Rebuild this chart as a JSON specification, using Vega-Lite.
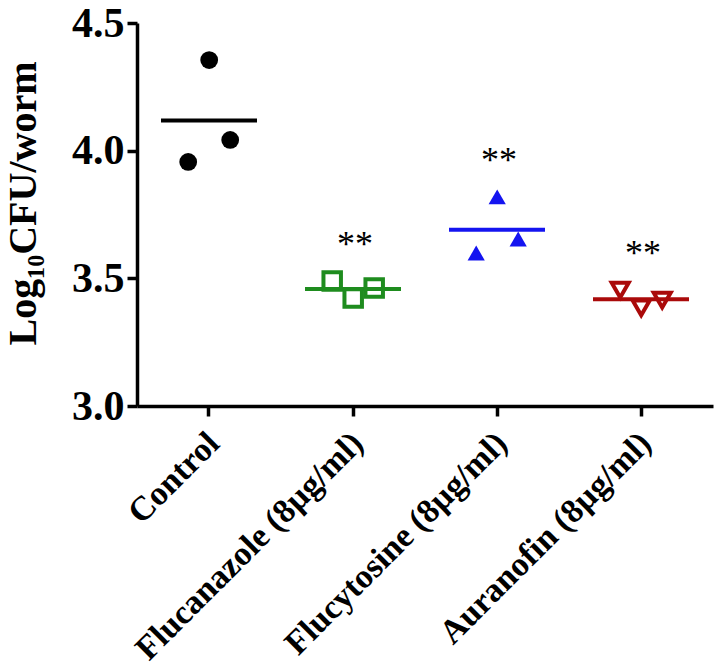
{
  "$schema": "https://vega.github.io/schema/vega-lite/v6.json",
  "width": 576,
  "height": 383,
  "autosize": "none",
  "padding": {"left": 137, "top": 23, "right": 7, "bottom": 264},
  "background": "white",
  "config": {"view": {"stroke": null}, "font": "Liberation Serif"},
  "data": {
    "values": [
      {"group": "Control", "rep": 1, "value": 3.956},
      {"group": "Control", "rep": 2, "value": 4.355},
      {"group": "Control", "rep": 3, "value": 4.042},
      {"group": "Flucanazole (8µg/ml)", "rep": 1, "value": 3.490},
      {"group": "Flucanazole (8µg/ml)", "rep": 2, "value": 3.423},
      {"group": "Flucanazole (8µg/ml)", "rep": 3, "value": 3.462},
      {"group": "Flucytosine (8µg/ml)", "rep": 1, "value": 3.599},
      {"group": "Flucytosine (8µg/ml)", "rep": 2, "value": 3.819},
      {"group": "Flucytosine (8µg/ml)", "rep": 3, "value": 3.654},
      {"group": "Auranofin (8µg/ml)", "rep": 1, "value": 3.454},
      {"group": "Auranofin (8µg/ml)", "rep": 2, "value": 3.384},
      {"group": "Auranofin (8µg/ml)", "rep": 3, "value": 3.415}
    ]
  },
  "encoding": {
    "x": {
      "field": "group",
      "type": "nominal",
      "sort": ["Control", "Flucanazole (8µg/ml)", "Flucytosine (8µg/ml)", "Auranofin (8µg/ml)"],
      "scale": {"paddingInner": 0.1, "paddingOuter": 0.05},
      "axis": {
        "title": null,
        "labelAngle": -45,
        "labelFontSize": 34,
        "labelFontWeight": "bold",
        "labelColor": "black",
        "labelFont": "Liberation Serif",
        "labelLimit": 600,
        "labelPadding": 10,
        "labelOffset": -7,
        "domainColor": "black",
        "domainWidth": 3.5,
        "tickColor": "black",
        "tickWidth": 3.5,
        "tickSize": 10
      }
    },
    "color": {
      "field": "group",
      "type": "nominal",
      "scale": {
        "domain": ["Control", "Flucanazole (8µg/ml)", "Flucytosine (8µg/ml)", "Auranofin (8µg/ml)"],
        "range": ["#000000", "#1e8c1e", "#1414f0", "#aa0a0a"]
      },
      "legend": null
    }
  },
  "layer": [
    {
      "mark": {"type": "tick", "thickness": 4, "size": 96, "opacity": 1},
      "encoding": {
        "y": {
          "aggregate": "mean",
          "field": "value",
          "type": "quantitative",
          "scale": {"domain": [3, 4.5], "nice": false, "zero": false},
          "axis": {
            "title": "Log₁₀CFU/worm",
            "titleFontSize": 40,
            "titleFontWeight": "bold",
            "titleColor": "black",
            "titleFont": "Liberation Serif",
            "titlePadding": 28,
            "titleY": 180,
            "values": [3, 3.5, 4, 4.5],
            "format": ".1f",
            "labelFontSize": 42,
            "labelFontWeight": "bold",
            "labelColor": "black",
            "labelFont": "Liberation Serif",
            "labelPadding": 3,
            "grid": false,
            "domainColor": "black",
            "domainWidth": 3.5,
            "tickColor": "black",
            "tickWidth": 3.5,
            "tickSize": 10
          }
        }
      }
    },
    {
      "transform": [{"filter": "datum.group === 'Control' || datum.group === 'Flucytosine (8µg/ml)'"}],
      "mark": {"type": "point", "filled": true, "opacity": 1, "strokeWidth": 0},
      "encoding": {
        "xOffset": {"field": "rep", "type": "quantitative", "scale": {"domain": [1, 3], "range": [44, 86]}},
        "y": {"field": "value", "type": "quantitative"},
        "shape": {
          "field": "group",
          "type": "nominal",
          "scale": {
            "domain": ["Control", "Flucanazole (8µg/ml)", "Flucytosine (8µg/ml)", "Auranofin (8µg/ml)"],
            "range": ["circle", "square", "triangle-up", "triangle-down"]
          },
          "legend": null
        },
        "size": {
          "field": "group",
          "type": "nominal",
          "scale": {
            "domain": ["Control", "Flucanazole (8µg/ml)", "Flucytosine (8µg/ml)", "Auranofin (8µg/ml)"],
            "range": [314, 289, 400, 480]
          },
          "legend": null
        }
      }
    },
    {
      "transform": [{"filter": "datum.group === 'Flucanazole (8µg/ml)' || datum.group === 'Auranofin (8µg/ml)'"}],
      "mark": {"type": "point", "filled": false, "opacity": 1, "strokeWidth": 4},
      "encoding": {
        "xOffset": {"field": "rep", "type": "quantitative"},
        "y": {"field": "value", "type": "quantitative"},
        "shape": {"field": "group", "type": "nominal", "legend": null},
        "size": {"field": "group", "type": "nominal", "legend": null}
      }
    },
    {
      "transform": [{"filter": "datum.group !== 'Control'"}],
      "mark": {"type": "text", "text": "**", "fontSize": 36, "font": "Liberation Serif", "color": "black", "baseline": "alphabetic", "dx": 2},
      "encoding": {
        "y": {"aggregate": "max", "field": "value", "type": "quantitative"},
        "color": {"value": "black"},
        "yOffset": {"value": -25}
      }
    }
  ]
}
